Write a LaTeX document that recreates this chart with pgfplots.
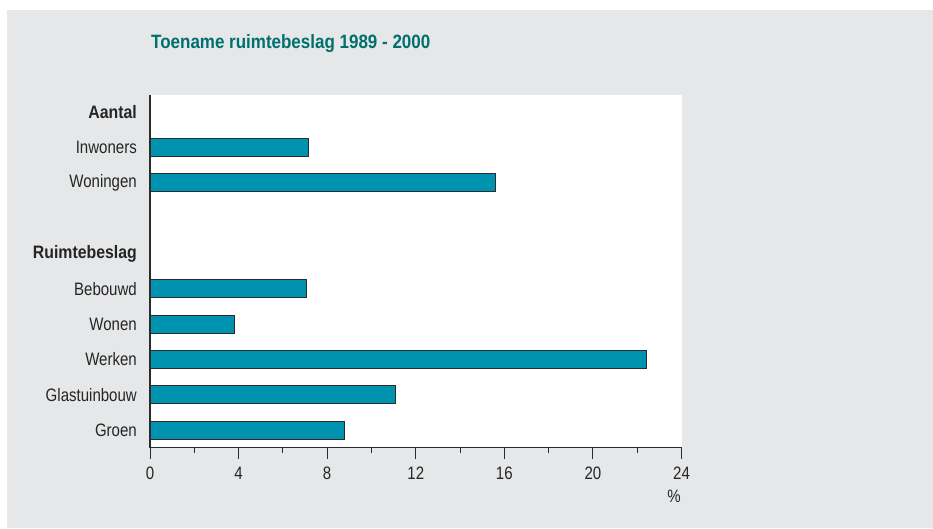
\documentclass[border=0pt]{standalone}
\usepackage{fontspec}
\setmainfont{Liberation Sans}[FakeStretch=0.835, BoldFeatures={FakeStretch=0.88}]
\usepackage{pgfplots}
\pgfplotsset{compat=1.18}
\definecolor{bg}{HTML}{E6E7E8}
\definecolor{barc}{HTML}{0093AF}
\definecolor{edge}{HTML}{2B2B2B}
\definecolor{txt}{HTML}{252525}
\definecolor{titlec}{HTML}{00706E}
\begin{document}
\begin{tikzpicture}[x=1pt,y=1pt]
\useasboundingbox (0,0) rectangle (933,528);
\fill[white] (0,0) rectangle (933,528);
\fill[bg] (7,0) rectangle (933,518);
\node[anchor=base west, font=\fontsize{19.3}{23}\selectfont\bfseries, text=titlec, inner sep=0pt] at (151,479) {Toename ruimtebeslag 1989 - 2000};
\begin{axis}[
  at={(150pt,80.5pt)}, anchor=south west,
  width=531.5pt, height=352.5pt, scale only axis,
  axis background/.style={fill=white},
  xbar, bar width=18pt,
  xmin=0, xmax=24, ymin=-0.49, ymax=9.49,
  axis x line*=bottom, axis y line*=left,
  axis line style={draw=edge, line width=1.1pt},
  xtick={0,4,...,24}, minor xtick={2,6,...,22},
  tick align=outside,
  major tick length=11pt, minor tick length=5pt,
  x tick style={draw=edge, line width=1pt},
  ytick={0,...,9},
  yticklabels={Groen,Glastuinbouw,Werken,Wonen,Bebouwd,\textbf{Ruimtebeslag},{},Woningen,Inwoners,\textbf{Aantal}},
  y tick style={draw=none},
  tick label style={font=\fontsize{18}{20}\selectfont, text=txt},
  /pgf/number format/assume math mode=true,
  xticklabel style={anchor=north, inner sep=0pt, yshift=-8pt},
  yticklabel style={anchor=east, inner sep=0pt, xshift=-2pt},
]
\addplot[fill=barc, draw=edge, line width=1pt] coordinates {
  (8.77,0) (11.1,1) (22.4,2) (3.8,3) (7.07,4) (15.6,7) (7.15,8)};
\end{axis}
\node[anchor=base, font=\fontsize{18}{20}\selectfont, text=txt, inner sep=0pt] at (674,26) {\%};
\end{tikzpicture}
\end{document}
